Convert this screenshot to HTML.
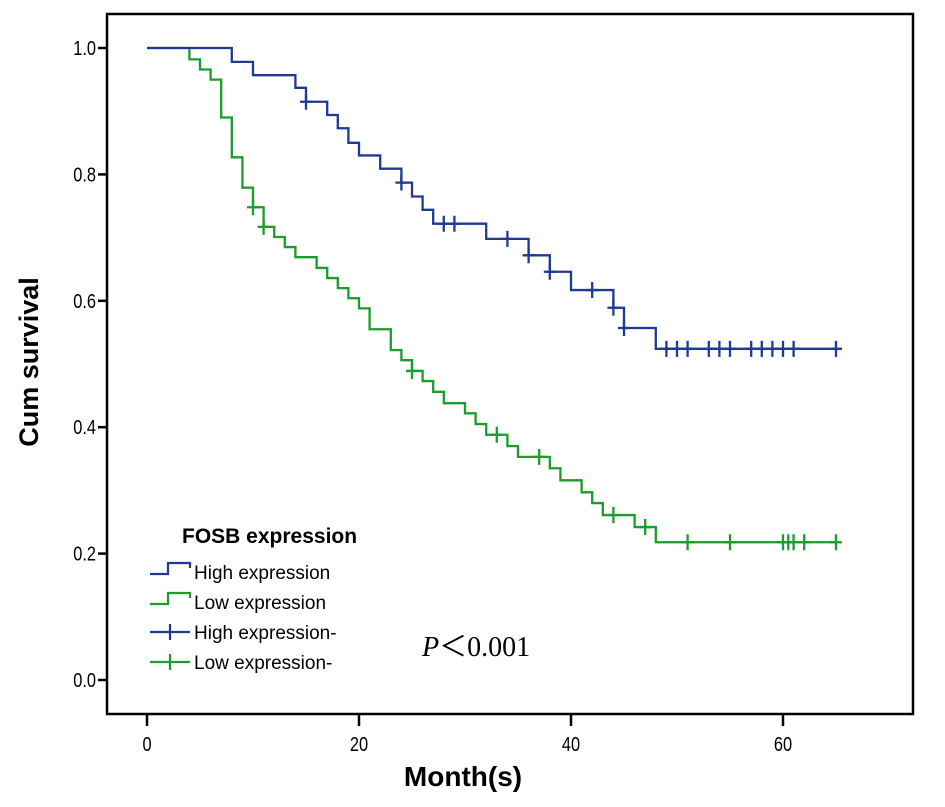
<!DOCTYPE html>
<html><head><meta charset="utf-8"><style>
html,body{margin:0;padding:0;background:#fff}
svg{display:block}
text{font-family:"Liberation Sans",sans-serif}
text.serif{font-family:"Liberation Serif",serif}
</style></head><body>
<svg id="chart" width="945" height="807" viewBox="0 0 945 807" xmlns="http://www.w3.org/2000/svg">
<rect x="107" y="14" width="806" height="700" fill="none" stroke="#000" stroke-width="2.5"/>
<g id="axes"></g>
<g id="series"></g>
<text transform="translate(38,362) rotate(-90)" text-anchor="middle" font-size="27" font-weight="bold">Cum survival</text>
<text x="463" y="786" text-anchor="middle" font-size="28" font-weight="bold">Month(s)</text>
<g>
<text x="182" y="543" font-size="21" font-weight="bold">FOSB expression</text>
<path d="M150,574H168V563H190V568" fill="none" stroke="#1f3a93" stroke-width="2.2"/>
<text x="194" y="579" font-size="19">High expression</text>
<path d="M150,604H168V593H190V598" fill="none" stroke="#1c9c2c" stroke-width="2.2"/>
<text x="194" y="609" font-size="19">Low expression</text>
<path d="M150,632H190M170,624V640" fill="none" stroke="#1f3a93" stroke-width="2.2"/>
<text x="194" y="639" font-size="19">High expression-</text>
<path d="M150,662H190M170,654V670" fill="none" stroke="#1c9c2c" stroke-width="2.2"/>
<text x="194" y="669" font-size="19">Low expression-</text>
</g>
<text class="serif" x="422" y="656" font-size="28"><tspan font-style="italic">P</tspan>＜0.001</text>
</svg>
<script>
const xTicks = [0, 20, 40, 60];
const yTicks = [0.0, 0.2, 0.4, 0.6, 0.8, 1.0];
const highTimes = [8, 10, 14, 15, 17, 18, 19, 20, 22, 24, 25, 26, 27, 32, 36, 38, 40, 44, 45, 48];
const highSurv = [0.978, 0.957, 0.937, 0.915, 0.894, 0.873, 0.850, 0.830, 0.809, 0.787, 0.765, 0.744, 0.722, 0.698, 0.672, 0.646, 0.617, 0.589, 0.557, 0.524];
const highCensor = [15, 24, 28, 29, 34, 36, 38, 42, 44, 45, 49, 50, 51, 53, 54, 55, 57, 58, 59, 60, 61, 65];
const lowTimes = [4, 5, 6, 7, 8, 9, 10, 11, 12, 13, 14, 16, 17, 18, 19, 20, 21, 23, 24, 25, 26, 27, 28, 30, 31, 32, 34, 35, 38, 39, 41, 42, 43, 46, 48];
const lowSurv = [0.982, 0.966, 0.950, 0.890, 0.827, 0.779, 0.748, 0.717, 0.701, 0.685, 0.669, 0.652, 0.636, 0.620, 0.604, 0.588, 0.555, 0.522, 0.506, 0.489, 0.473, 0.456, 0.438, 0.422, 0.405, 0.388, 0.370, 0.353, 0.335, 0.316, 0.297, 0.280, 0.261, 0.242, 0.218];
const lowCensor = [10, 11, 25, 33, 37, 44, 47, 51, 55, 60, 60.5, 61, 62, 65];
const endTime = 65;

const NS = 'http://www.w3.org/2000/svg';
const xs = m => 147 + m * 10.6;
const ys = v => 680 - v * 632;
const axes = document.getElementById('axes');
const series = document.getElementById('series');
function mk(tag, attrs, parent) {
  const e = document.createElementNS(NS, tag);
  for (const k in attrs) e.setAttribute(k, attrs[k]);
  parent.appendChild(e);
  return e;
}
xTicks.forEach(t => {
  const l = mk('line', {x1: xs(t), x2: xs(t), y1: 715, y2: 726, stroke: '#000', 'stroke-width': 2.5}, axes);
  
  
  const tx = mk('text', {transform: 'translate(' + xs(t) + ',751) scale(0.82,1)', 'text-anchor': 'middle', 'font-size': 20}, axes);
  tx.textContent = String(t);
  
  
});
yTicks.forEach(t => {
  const l = mk('line', {x1: 98, x2: 107, y1: ys(t), y2: ys(t), stroke: '#000', 'stroke-width': 2.5}, axes);
  
  
  const tx = mk('text', {transform: 'translate(96,' + (ys(t) + 7) + ') scale(0.82,1)', 'text-anchor': 'end', 'font-size': 20}, axes);
  tx.textContent = t.toFixed(1);
  
  
});
function survAt(times, surv, m) {
  let s = 1;
  for (let i = 0; i < times.length; i++) if (times[i] <= m) s = surv[i];
  return s;
}
function drawCurve(times, surv, censor, color, name) {
  let d = 'M' + xs(0) + ',' + ys(1);
  times.forEach((t, i) => {
    d += 'H' + xs(t) + 'V' + ys(surv[i]);
  });
  d += 'H' + xs(endTime);
  const p = mk('path', {d: d, fill: 'none', stroke: color, 'stroke-width': 2.3}, series);
  
  
  censor.forEach(c => {
    const x = xs(c), y = ys(survAt(times, surv, c));
    const m = mk('path', {d: 'M' + (x - 6) + ',' + y + 'H' + (x + 6) + 'M' + x + ',' + (y - 8) + 'V' + (y + 8), stroke: color, 'stroke-width': 2.3, fill: 'none'}, series);
    
    
  });
}
drawCurve(lowTimes, lowSurv, lowCensor, '#1c9c2c', 'low-expression');
drawCurve(highTimes, highSurv, highCensor, '#1f3a93', 'high-expression');
</script>
</body></html>
